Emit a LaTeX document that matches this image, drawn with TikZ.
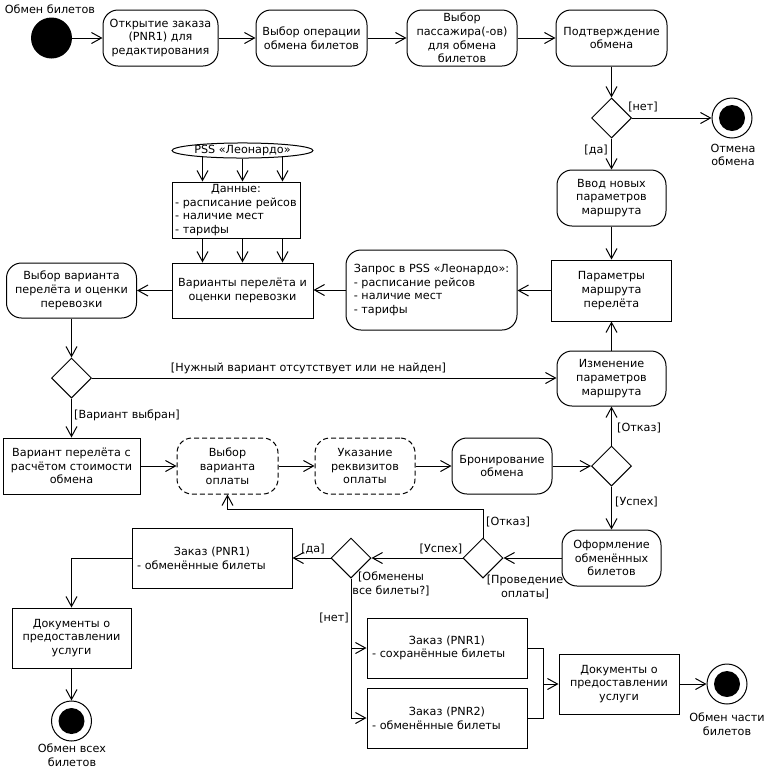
\documentclass[tikz,border=0pt]{standalone}
\usepackage{fontspec}
\setmainfont{DejaVu Sans}
\usetikzlibrary{arrows.meta,shapes.geometric,calc}
\begin{document}
\begin{tikzpicture}[x=1pt,y=-1pt,
  every node/.style={font=\fontsize{11.2}{13.8}\selectfont},
  ln/.style={line width=1pt},
  arr/.style={ln,-{Straight Barb[length=10pt,width=11pt]}},
  act/.style={draw,ln,rounded corners=15pt,align=center,inner sep=2pt},
  dact/.style={act,dash pattern=on 5pt off 3pt},
  obj/.style={draw,ln,rectangle,align=center,inner sep=2pt},
  dec/.style={draw,ln,diamond,minimum width=40pt,minimum height=40pt,inner sep=0pt,fill=white},
  startn/.style={circle,fill=black,minimum size=41pt,inner sep=0pt},
  endn/.style={circle,draw,ln,fill=white,minimum size=40pt,inner sep=0pt,
    path picture={\fill[black] (path picture bounding box.center) circle (13pt);}},
  lbl/.style={inner sep=1pt,align=center}
]
\useasboundingbox (0,0) rectangle (770,769);

% top row
\node[startn] (start) at (51.5,38) {};
\node[lbl] (tstart) at (50,9) {Обмен билетов};
\node[act,minimum width=115pt,minimum height=56pt] (b1) at (160.5,38) {Открытие заказа\\(PNR1) для\\редактирования};
\node[act,minimum width=111pt,minimum height=56pt] (b2) at (311.5,38) {Выбор операции\\обмена билетов};
\node[act,minimum width=110pt,minimum height=56pt] (b3) at (462,38) {Выбор\\пассажира(-ов)\\для обмена\\билетов};
\node[act,minimum width=111pt,minimum height=56pt] (b4) at (611.5,38) {Подтверждение\\обмена};
\node[dec] (d1) at (611.5,118) {};
\node[endn] (f1) at (732,118) {};
\node[lbl] (tf1) at (733,155) {Отмена\\обмена};

% right column
\node[act,minimum width=109pt,minimum height=56pt] (vvod) at (611.5,198) {Ввод новых\\параметров\\маршрута};
\node[obj,minimum width=120pt,minimum height=61pt] (param) at (611.5,290.5) {Параметры\\маршрута\\перелёта};
\node[act,align=left,minimum width=171pt,minimum height=80pt] (zapros) at (431.5,290) {Запрос в PSS «Леонардо»:\\- расписание рейсов\\- наличие мест\\- тарифы};
\node[act,minimum width=109pt,minimum height=55pt] (izm) at (611.5,378.5) {Изменение\\параметров\\маршрута};

% PSS block
\node[draw,ln,ellipse,minimum width=141pt,minimum height=14pt,inner sep=0pt] (pss) at (242.5,150.5) {PSS «Леонардо»};
\node[obj,align=left,inner xsep=3pt,text width=122pt,minimum width=128pt,minimum height=56pt] (dannye) at (236,210) {\makebox[\linewidth]{Данные:}\\\mbox{- расписание рейсов}\\\mbox{- наличие мест}\\\mbox{- тарифы}};
\node[obj,minimum width=141pt,minimum height=55pt] (varianty) at (242.5,290.5) {Варианты перелёта и\\оценки перевозки};
\node[act,minimum width=130pt,minimum height=55pt] (vybvar) at (71.5,290.5) {Выбор варианта\\перелёта и оценки\\перевозки};
\node[dec] (d2) at (71.5,378) {};

% payment row
\node[obj,minimum width=137pt,minimum height=56pt] (variant) at (71.5,466) {Вариант перелёта с\\расчётом стоимости\\обмена};
\node[dact,minimum width=101pt,minimum height=56pt] (oplata) at (227.5,466) {Выбор\\варианта\\оплаты};
\node[dact,minimum width=100pt,minimum height=56pt] (rekv) at (365,466) {Указание\\реквизитов\\оплаты};
\node[act,minimum width=100pt,minimum height=56pt] (bron) at (502,466) {Бронирование\\обмена};
\node[dec] (d3) at (611.5,466) {};
\node[act,minimum width=99pt,minimum height=56pt] (oform) at (611.5,558) {Оформление\\обменённых\\билетов};
\node[dec] (d4) at (483,558) {};
\node[dec] (d5) at (351,558) {};

% bottom
\node[obj,align=left,inner xsep=5pt,text width=150pt,minimum width=160pt,minimum height=60pt] (zakaz1) at (212,558) {\makebox[\linewidth]{Заказ (PNR1)}\\- обменённые билеты};
\node[obj,minimum width=119pt,minimum height=60pt] (docs1) at (71.5,638) {Документы о\\предоставлении\\услуги};
\node[endn] (f2) at (71.5,721) {};
\node[lbl] (tf2) at (72,755) {Обмен всех\\билетов};
\node[obj,align=left,inner xsep=5pt,text width=150pt,minimum width=160pt,minimum height=60pt] (zakaz2) at (447,648) {\makebox[\linewidth]{Заказ (PNR1)}\\- сохранённые билеты};
\node[obj,align=left,inner xsep=5pt,text width=150pt,minimum width=160pt,minimum height=60pt] (zakaz3) at (447,718) {\makebox[\linewidth]{Заказ (PNR2)}\\- обменённые билеты};
\coordinate (j) at (543,684);
\node[obj,minimum width=120pt,minimum height=60pt] (docs2) at (619,684) {Документы о\\предоставлении\\услуги};
\node[endn] (f3) at (727,684) {};
\node[lbl] (tf3) at (727,724) {Обмен части\\билетов};

% connectors
\draw[arr] (start) -- (b1);
\draw[arr] (b1) -- (b2);
\draw[arr] (b2) -- (b3);
\draw[arr] (b3) -- (b4);
\draw[arr] (b4) -- (d1);
\draw[arr] (d1) -- (f1);
\node[lbl] (lnet1) at (643,107) {[нет]};
\draw[arr] (d1) -- (vvod);
\node[lbl,anchor=east] (lda1) at (609,150) {[да]};
\draw[arr] (vvod) -- (param);
\draw[arr] (param.west) -- (zapros.east |- param.west);
\draw[arr] (zapros.west) -- (varianty.east |- zapros.west);
\draw[arr] (varianty.west) -- (vybvar.east |- varianty.west);
\foreach \dx/\dy in {-40/1.2,0/0,40/1.2}{
  \draw[arr] ([xshift=\dx pt,yshift=\dy pt]pss.south) -- ([xshift=\dx pt]pss.south |- dannye.north);
  \draw[arr] ([xshift=\dx pt]pss.south |- dannye.south) -- ([xshift=\dx pt]pss.south |- varianty.north);
}
\draw[arr] (vybvar) -- (d2);
\draw[arr] (d2.east) -- (izm.west |- d2.east);
\node[lbl] (lnv) at (308.5,368) {[Нужный вариант отсутствует или не найден]};
\draw[arr] (d2) -- (variant);
\node[lbl,anchor=west] (lvv) at (73,415) {[Вариант выбран]};
\draw[arr] (variant) -- (oplata);
\draw[arr] (oplata) -- (rekv);
\draw[arr] (rekv) -- (bron);
\draw[arr] (bron) -- (d3);
\draw[arr] (d3) -- (izm);
\node[lbl,anchor=west] (lotk1) at (616,428) {[Отказ]};
\draw[arr] (izm) -- (param);
\draw[arr] (d3) -- (oform);
\node[lbl,anchor=west] (lusp1) at (614,502) {[Успех]};
\draw[arr] (oform) -- (d4);
\draw[arr] (d4) -- (d5);
\node[lbl] (lusp2) at (441,549) {[Успех]};
\draw[arr] (d4.north) |- ([yshift=-15pt]oplata.south) -- (oplata.south);
\node[lbl,anchor=west] (lotk2) at (485,522) {[Отказ]};
\node[lbl] (lprov) at (525,587) {[Проведение\\оплаты]};
\draw[arr] (d5) -- (zakaz1);
\node[lbl] (lda2) at (313,549) {[да]};
\node[lbl] (lobm) at (391,584) {[Обменены\\все билеты?]};
\draw[arr] (zakaz1.west) -| (docs1.north);
\draw[arr] (docs1) -- (f2);
\draw[arr] (d5.south) |- (zakaz2.west);
\draw[arr] (d5.south) |- (zakaz3.west);
\node[lbl] (lnet2) at (334,618) {[нет]};
\draw[ln] (zakaz2.east) -| (j);
\draw[ln] (zakaz3.east) -| (j);
\draw[arr] (j) -- (docs2.west);
\draw[arr] (docs2) -- (f3);
\end{tikzpicture}
\end{document}
